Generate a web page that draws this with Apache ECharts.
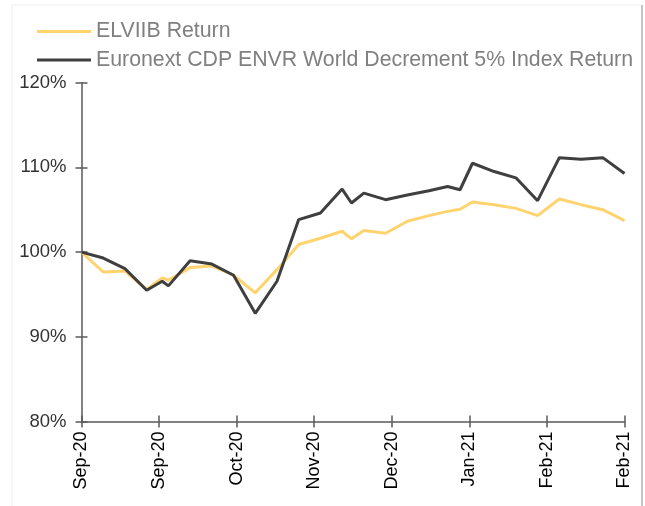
<!DOCTYPE html>
<html>
<head>
<meta charset="utf-8">
<script src="https://cdn.jsdelivr.net/npm/echarts@6/dist/echarts.min.js"></script>
<style>
html,body{margin:0;padding:0;background:#fff;}
#c{width:645px;height:506px;}
</style>
</head>
<body>
<div id="c"></div>
<script>
// days since first observation (Sep-20)
const days = [0,7,14,21,26,28,35,42,49,56,63,70,77,84,87,91,98,105,112,118,122,126,133,140,147,154,161,168,175];
const elviib = [100.0,97.65,97.77,95.59,96.95,96.68,98.17,98.36,97.27,95.19,97.93,100.90,101.64,102.46,101.57,102.55,102.23,103.64,104.31,104.81,105.05,105.92,105.60,105.16,104.31,106.27,105.60,105.01,103.72];
const euronext = [100.0,99.30,98.05,95.50,96.56,96.01,98.99,98.59,97.27,92.77,96.56,103.84,104.62,107.44,105.80,106.97,106.19,106.74,107.24,107.75,107.36,110.49,109.51,108.77,106.07,111.15,110.96,111.15,109.27];
const xTickLabels = ['Sep-20','Sep-20','Oct-20','Nov-20','Dec-20','Jan-21','Feb-21','Feb-21'];
const seriesNames = ['ELVIIB Return','Euronext CDP ENVR World Decrement 5% Index Return'];

const pair = (xs, ys) => xs.map((x, i) => [x, ys[i]]);
const chart = echarts.init(document.getElementById('c'), null, {renderer: 'canvas'});
const axisColor = '#5a5a5a';
const font = 'Liberation Sans, Arial, sans-serif';

chart.setOption({
  animation: false,
  backgroundColor: '#ffffff',
  graphic: [
    {type: 'line', shape: {x1: 12, y1: 5, x2: 641, y2: 5}, style: {stroke: '#eeeeee', lineWidth: 1}, silent: true, z: -1},
    {type: 'line', shape: {x1: 12, y1: 5, x2: 12, y2: 506}, style: {stroke: '#eeeeee', lineWidth: 1}, silent: true, z: -1},
    {type: 'line', shape: {x1: 642, y1: 5, x2: 642, y2: 506}, style: {stroke: '#c4c4c4', lineWidth: 2}, silent: true, z: -1}
  ],
  legend: {
    orient: 'vertical',
    left: 32,
    top: 16,
    itemWidth: 54,
    itemHeight: 3,
    itemGap: 7.5,
    icon: 'rect',
    data: seriesNames,
    textStyle: {color: '#808080', fontSize: 21.3, fontFamily: font, lineHeight: 21, padding: [0, 0, 0, 0]}
  },
  grid: {left: 81.5, right: 20.5, top: 82.7, bottom: 84.5, containLabel: false},
  xAxis: [
    {
      type: 'value', min: 0, max: 175, interval: 25,
      axisLine: {show: true, lineStyle: {color: axisColor, width: 1.5}},
      axisTick: {show: true, inside: false, length: 6, lineStyle: {color: axisColor, width: 1.5}},
      splitLine: {show: false},
      axisLabel: {
        rotate: 90, margin: 10, color: '#000000', fontSize: 18, fontFamily: font,
        showMinLabel: true, showMaxLabel: true,
        formatter: v => xTickLabels[Math.round(v / 25)]
      }
    },
    {
      type: 'value', min: 0, max: 175, interval: 25, position: 'bottom',
      axisLine: {show: false},
      axisTick: {show: true, inside: true, length: 6, lineStyle: {color: axisColor, width: 1.5}},
      axisLabel: {show: false}, splitLine: {show: false}
    }
  ],
  yAxis: [
    {
      type: 'value', min: 80, max: 120, interval: 10,
      axisLine: {show: true, lineStyle: {color: axisColor, width: 1.5}},
      axisTick: {show: true, inside: false, length: 6, lineStyle: {color: axisColor, width: 1.5}},
      splitLine: {show: false},
      axisLabel: {margin: 15, color: '#333333', fontSize: 18.5, fontFamily: font, formatter: v => v + '%'}
    },
    {
      type: 'value', min: 80, max: 120, interval: 10, position: 'left',
      axisLine: {show: false},
      axisTick: {show: true, inside: true, length: 6, lineStyle: {color: axisColor, width: 1.5}},
      axisLabel: {show: false}, splitLine: {show: false}
    }
  ],
  series: [
    {
      name: seriesNames[0], type: 'line', data: pair(days, elviib),
      symbol: 'none', showSymbol: false,
      lineStyle: {color: '#FFD36E', width: 3},
      itemStyle: {color: '#FFD36E'}, z: 3
    },
    {
      name: seriesNames[1], type: 'line', data: pair(days, euronext),
      symbol: 'none', showSymbol: false,
      lineStyle: {color: '#3f3f3f', width: 3},
      itemStyle: {color: '#3f3f3f'}, z: 4
    }
  ]
});
</script>
</body>
</html>
